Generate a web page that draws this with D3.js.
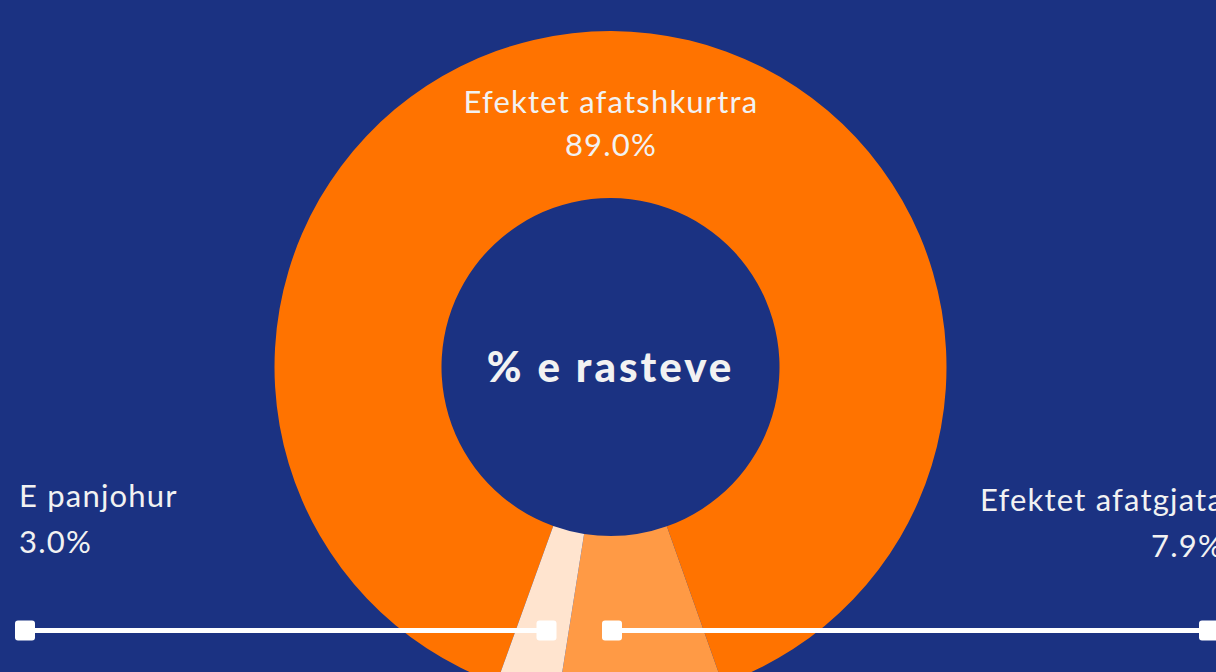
<!DOCTYPE html>
<html>
<head>
<meta charset="utf-8">
<script src="https://cdn.jsdelivr.net/npm/d3@7"></script>
<style>
  html, body { margin: 0; padding: 0; background: #1b3282; overflow: hidden; }
  svg { display: block; }
  .lbl { font-family: Lato, "Noto Sans", sans-serif; fill: #f2f2f2; font-size: 31px; letter-spacing: 1.2px; }
  .center { font-family: Lato, sans-serif; font-weight: 900; fill: #f2f2f2; font-size: 42px; letter-spacing: 3px; }
</style>
</head>
<body>
<svg id="chart"></svg>
<script>
// data
const categories = ['Efektet afatshkurtra', 'Efektet afatgjata', 'E panjohur'];
const values = [89.0, 7.9, 3.0];
const colors = ['#ff7300', '#ff9a45', '#ffe4cf'];
const centerLabel = '% e rasteve';

// dimensions
const width = 1216, height = 672;
const cx = 610.5, cy = 367;
const outerR = 336, innerR = 169;

const svg = d3.select('#chart')
  .attr('width', width)
  .attr('height', height);

svg.append('rect')
  .attr('width', width)
  .attr('height', height)
  .attr('fill', '#1b3282');

const g = svg.append('g')
  .attr('transform', `translate(${cx},${cy})`);

// pie, first slice centred on the top
const start = -Math.PI * values[0] / 100;
const pie = d3.pie()
  .sort(null)
  .value(d => d)
  .startAngle(start)
  .endAngle(start + 2 * Math.PI);

const arc = d3.arc()
  .innerRadius(innerR)
  .outerRadius(outerR);

g.selectAll('path')
  .data(pie(values))
  .enter()
  .append('path')
  .attr('d', arc)
  .attr('fill', (d, i) => colors[i]);

// centre title
g.append('text')
  .attr('class', 'center')
  .attr('text-anchor', 'middle')
  .attr('dy', '0.35em')
  .text(centerLabel);

// leader lines
const leaders = [
  { x1: 25, x2: 546.5, y: 630.5 },
  { x1: 612, x2: 1209, y: 630.5 }
];
leaders.forEach(l => {
  svg.append('line')
    .attr('x1', l.x1).attr('x2', l.x2)
    .attr('y1', l.y).attr('y2', l.y)
    .attr('stroke', '#ffffff')
    .attr('stroke-width', 5);
  [l.x1, l.x2].forEach(x => {
    svg.append('rect')
      .attr('x', x - 10).attr('y', l.y - 10)
      .attr('width', 20).attr('height', 20)
      .attr('rx', 3)
      .attr('fill', '#ffffff');
  });
});

// labels
const labelPos = [
  { x: 611, y: 113, anchor: 'middle', gap: 43 },
  { x: 1224, y: 511, anchor: 'end', gap: 46 },
  { x: 19, y: 507, anchor: 'start', gap: 46 }
];
categories.forEach((c, i) => {
  const p = labelPos[i];
  const t = svg.append('text')
    .attr('class', 'lbl')
    .attr('text-anchor', p.anchor);
  t.append('tspan').attr('x', p.x).attr('y', p.y).text(c);
  t.append('tspan').attr('x', p.x).attr('y', p.y + p.gap).text(d3.format('.1f')(values[i]) + '%');
});
</script>
</body>
</html>
